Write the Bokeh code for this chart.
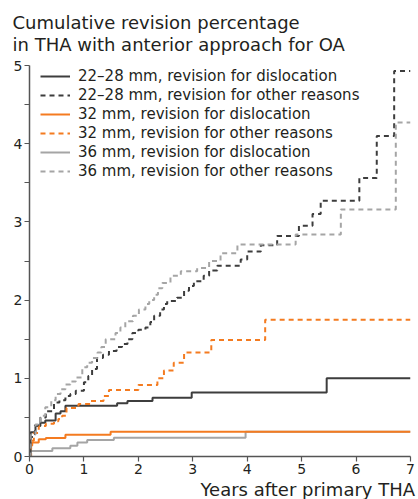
from bokeh.plotting import figure
from bokeh.models import Title, Legend, LegendItem, FixedTicker, Range1d
from bokeh.embed import file_html
from bokeh.resources import INLINE

# --- data (years, cumulative revision %) ---
t_2228_disl = [0, 0.02, 0.11, 0.2, 0.29, 0.48, 0.57, 0.66, 1.61, 1.80, 2.26, 2.98, 5.46, 7]
v_2228_disl = [0, 0.31, 0.39, 0.43, 0.46, 0.55, 0.58, 0.65, 0.68, 0.71, 0.75, 0.82, 1.0, 1.0]

t_2228_oth = [0, 0.02, 0.1, 0.2, 0.3, 0.45, 0.55, 0.66, 0.75, 0.85, 1.0, 1.08, 1.15, 1.24, 1.35,
              1.46, 1.6, 1.7, 1.8, 1.89, 2.0, 2.13, 2.22, 2.29, 2.4, 2.47, 2.53, 2.71, 2.84, 2.93,
              3.02, 3.2, 3.3, 3.45, 3.88, 4.0, 4.25, 4.55, 4.95, 5.2, 5.35, 6.06, 6.38, 6.7, 7]
v_2228_oth = [0, 0.25, 0.4, 0.5, 0.58, 0.69, 0.72, 0.775, 0.8, 0.84, 0.95, 1.03, 1.12, 1.26, 1.3,
              1.35, 1.4, 1.44, 1.5, 1.58, 1.62, 1.65, 1.72, 1.8, 1.88, 1.95, 1.99, 2.03, 2.12, 2.18,
              2.24, 2.31, 2.38, 2.44, 2.52, 2.62, 2.70, 2.82, 2.95, 3.1, 3.27, 3.56, 4.1, 4.93, 4.93]

t_32_disl = [0, 0.02, 0.05, 0.17, 0.3, 0.66, 1.49, 7]
v_32_disl = [0.08, 0.14, 0.18, 0.22, 0.235, 0.277, 0.315, 0.315]

t_32_oth = [0, 0.03, 0.08, 0.17, 0.3, 0.45, 0.53, 0.6, 0.68, 0.9, 1.12, 1.36, 1.46, 2.0, 2.35,
            2.47, 2.65, 2.84, 3.34, 4.33, 7]
v_32_oth = [0, 0.2, 0.3, 0.39, 0.42, 0.45, 0.48, 0.52, 0.62, 0.67, 0.71, 0.775, 0.85, 0.915, 1.0,
            1.1, 1.2, 1.33, 1.49, 1.75, 1.75]

t_36_disl = [0, 0.42, 0.75, 0.88, 1.06, 1.55, 3.97, 7]
v_36_disl = [0.07, 0.107, 0.137, 0.18, 0.21, 0.24, 0.315, 0.315]

t_36_oth = [0, 0.02, 0.11, 0.2, 0.29, 0.4, 0.48, 0.57, 0.66, 0.75, 0.85, 0.97, 1.06, 1.15, 1.25,
            1.32, 1.4, 1.58, 1.67, 1.76, 1.9, 2.01, 2.13, 2.2, 2.29, 2.36, 2.44, 2.59, 2.78, 3.08,
            3.3, 3.51, 3.82, 4.89, 5.72, 6.73, 7]
v_36_oth = [0, 0.28, 0.41, 0.52, 0.63, 0.72, 0.8, 0.86, 0.92, 0.96, 1.01, 1.14, 1.2, 1.26, 1.33,
            1.4, 1.5, 1.58, 1.65, 1.73, 1.8, 1.88, 1.95, 2.0, 2.07, 2.15, 2.22, 2.31, 2.37, 2.41,
            2.5, 2.6, 2.71, 2.84, 3.16, 4.27, 4.27]

labels = ["22\u201328 mm, revision for dislocation",
          "22\u201328 mm, revision for other reasons",
          "32 mm, revision for dislocation",
          "32 mm, revision for other reasons",
          "36 mm, revision for dislocation",
          "36 mm, revision for other reasons"]
title_lines = ["Cumulative revision percentage", "in THA with anterior approach for OA"]
x_title = "Years after primary THA"
x_ticks = [0, 1, 2, 3, 4, 5, 6, 7]
y_ticks = [0, 1, 2, 3, 4, 5]
y_minor = [0.5, 1.5, 2.5, 3.5, 4.5]

DARK = "#3d3d3d"
ORANGE = "#f47b20"
GREY = "#a5a5a5"
TEXT = "#231f20"
FONT = "DejaVu Sans"

W, H = 416, 499
p = figure(width=W, height=H, output_backend="svg", toolbar_location=None,
           x_range=Range1d(0, 7), y_range=Range1d(0, 5),
           min_border_left=29, min_border_right=6, min_border_top=64, min_border_bottom=43)
p.title = None
p.outline_line_color = None
p.grid.grid_line_color = None
p.background_fill_color = "white"
p.border_fill_color = "white"

# two-line title
tt = Title(text="\n".join(title_lines), text_font=FONT, text_font_size="18px",
           text_font_style="normal", text_color=TEXT, align="left", offset=-17, standoff=20,
           text_line_height=1.05)
p.add_layout(tt, "above")
xl = Title(text=x_title, text_font=FONT, text_font_size="18px",
           text_font_style="normal", text_color=TEXT, align="left", offset=171, standoff=0)
p.add_layout(xl, "below")

series = [
    (t_2228_disl, v_2228_disl, DARK, "solid"),
    (t_2228_oth, v_2228_oth, DARK, "5 4"),
    (t_32_disl, v_32_disl, ORANGE, "solid"),
    (t_32_oth, v_32_oth, ORANGE, "5 4"),
    (t_36_disl, v_36_disl, GREY, "solid"),
    (t_36_oth, v_36_oth, GREY, "5 4"),
]
draw_order = [4, 2, 0, 3, 1, 5]
renderers = {}
for i in draw_order:
    t, v, c, d = series[i]
    renderers[i] = p.step(t, v, mode="after", line_color=c, line_width=2, line_dash=d)
items = [LegendItem(label=labels[i], renderers=[renderers[i]]) for i in range(6)]

legend = Legend(items=items, location=(11, 276), border_line_color=None,
                background_fill_alpha=0, padding=0, margin=0, spacing=1,
                label_text_font=FONT, label_text_font_size="15px", label_text_color=TEXT,
                glyph_width=30, glyph_height=18, label_height=18, label_standoff=8)
p.add_layout(legend)

for ax in (p.xaxis[0], p.yaxis[0]):
    ax.axis_line_color = "#555555"
    ax.axis_line_width = 1.5
    ax.major_tick_line_color = "#555555"
    ax.minor_tick_line_color = "#555555"
    ax.major_tick_line_width = 1.2
    ax.minor_tick_line_width = 1.2
    ax.major_tick_in = 0
    ax.minor_tick_in = 0
    ax.major_tick_out = 5
    ax.minor_tick_out = 5
    ax.major_label_text_font = FONT
    ax.major_label_text_font_size = "14px"
    ax.major_label_text_color = TEXT
    ax.major_label_standoff = 2

p.xaxis[0].ticker = FixedTicker(ticks=x_ticks)
p.yaxis[0].ticker = FixedTicker(ticks=y_ticks, minor_ticks=y_minor)
p.xaxis[0].minor_tick_out = 0

open("out.html", "w").write(file_html(p, INLINE))
